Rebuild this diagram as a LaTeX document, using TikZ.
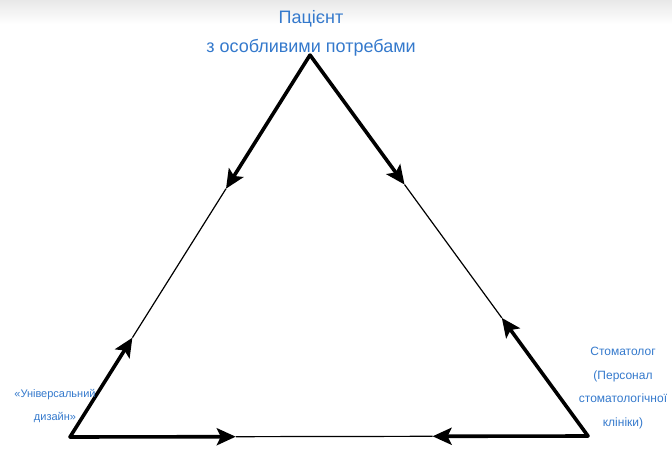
\documentclass[tikz,border=0pt]{standalone}
\usepackage{fontspec}
\setmainfont{Liberation Sans}
\usetikzlibrary{arrows.meta,calc}
\definecolor{lbltext}{HTML}{3479CC}
\definecolor{topfade}{HTML}{E8E8E8}
\tikzset{
  thickarr/.style={-{Stealth[length=19pt,width=17pt,inset=4pt]}, draw=black, line width=3.6pt, line cap=round},
  thinside/.style={draw=black, line width=1.2pt},
  ttl/.style={font=\fontsize{18}{29}\selectfont, text=lbltext, inner sep=0pt, align=center},
  sidelbl/.style={font=\fontsize{12}{23.5}\selectfont, text=lbltext, inner sep=0pt, align=center},
  smalllbl/.style={font=\fontsize{11}{23}\selectfont, text=lbltext, inner sep=0pt, align=center},
}

\begin{document}
\begin{tikzpicture}[x=1pt,y=-1pt]
  \useasboundingbox (0,0) rectangle (672,450);
  \shade[top color=topfade, bottom color=white] (0,0) rectangle (672,24);
  % corners of the triangle
  \coordinate (top) at (310,55);
  \coordinate (bl) at (70,437);
  \coordinate (br) at (588,436);
  % arrow tips on the sides
  \coordinate (tl) at ($(top)!0.35!(bl)$);
  \coordinate (tr) at ($(top)!0.34!(br)$);
  \coordinate (lt) at ($(bl)!0.26!(top)$);
  \coordinate (lr) at ($(bl)!0.32!(br)$);
  \coordinate (rt) at ($(br)!0.31!(top)$);
  \coordinate (rl) at ($(br)!0.30!(bl)$);
  \draw[thinside] (tl) -- (lt);
  \draw[thinside] (tr) -- (rt);
  \draw[thinside] (lr) -- (rl);
  \draw[thickarr] (top) -- (tl);
  \draw[thickarr] (top) -- (tr);
  \draw[thickarr] (bl) -- (lt);
  \draw[thickarr] (bl) -- (lr);
  \draw[thickarr] (br) -- (rt);
  \draw[thickarr] (br) -- (rl);
  % labels
  \node[ttl] (patient) at (311,33) {Пацієнт\\з особливими потребами};
  \node[smalllbl] (design) at (55,406) {«Універсальний\\дизайн»};
  \node[sidelbl] (dentist) at (623,388) {Стоматолог\\(Персонал\\стоматологічної\\клініки)};
\end{tikzpicture}
\end{document}
